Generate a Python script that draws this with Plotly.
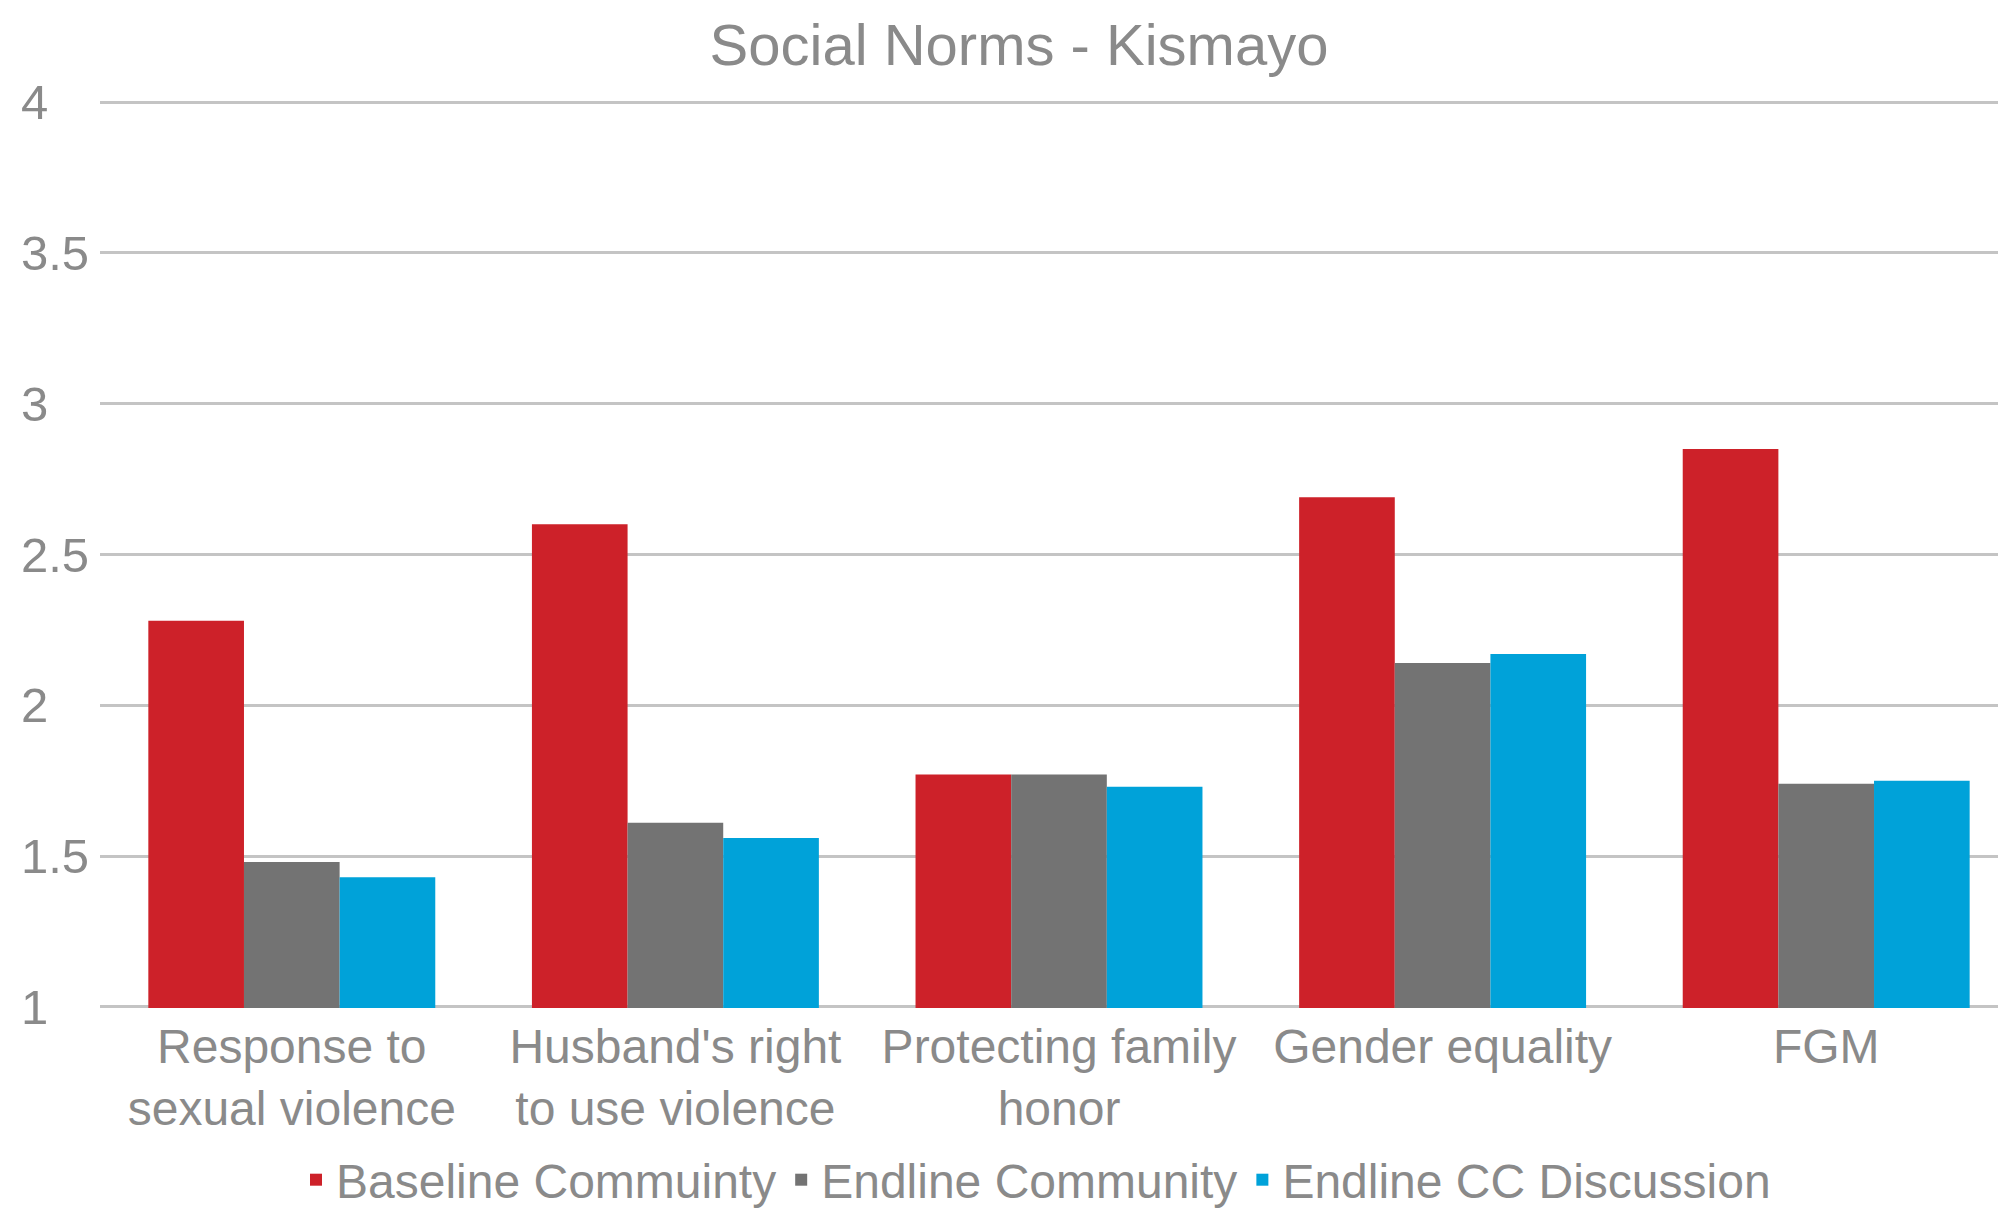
import plotly.graph_objects as go

categories = [
    "Response to<br>sexual violence",
    "Husband's right<br>to use violence",
    "Protecting family<br>honor",
    "Gender equality",
    "FGM",
]
baseline_community = [2.28, 2.60, 1.77, 2.69, 2.85]
endline_community = [1.48, 1.61, 1.77, 2.14, 1.74]
endline_cc_discussion = [1.43, 1.56, 1.73, 2.17, 1.75]

series_names = ["Baseline Commuinty", "Endline Community", "Endline CC Discussion"]
series_colors = ["#CD2129", "#737373", "#00A2D9"]
y_ticks = [1, 1.5, 2, 2.5, 3, 3.5, 4]

FONT = "Liberation Sans, Arial, sans-serif"
TEXT_GREY = "#8A8A8A"
W, H = 1998, 1210
PLOT_LEFT = 100
PLOT_W = W - PLOT_LEFT

fig = go.Figure()
for name, vals, col in zip(series_names,
                           [baseline_community, endline_community, endline_cc_discussion],
                           series_colors):
    fig.add_trace(go.Bar(
        x=categories, y=vals, name=name,
        marker=dict(color=col, line=dict(width=0)),
        base=0,
    ))

# Value-axis labels sit flush left, to the left of the gridlines
for v in y_ticks:
    fig.add_annotation(
        x=(19 - PLOT_LEFT) / PLOT_W, xref="paper", xanchor="left",
        y=v, yref="y", yanchor="middle",
        text=f"{v:g}", showarrow=False,
        font=dict(family=FONT, size=49, color=TEXT_GREY),
    )

eps = 0.004
fig.update_layout(
    width=W, height=H,
    margin=dict(l=PLOT_LEFT, r=0, t=101, b=202, pad=0),
    paper_bgcolor="white", plot_bgcolor="white",
    barmode="group", bargap=0.252, bargroupgap=0,
    font=dict(family=FONT, color=TEXT_GREY, size=48),
    title=dict(
        text="Social Norms - Kismayo",
        x=1019 / W, xref="container", xanchor="center",
        y=1 - 45 / H, yref="container", yanchor="middle",
        font=dict(family=FONT, size=58, color=TEXT_GREY),
    ),
    legend=dict(
        orientation="h",
        xref="container", yref="container",
        x=1036 / W, xanchor="center",
        y=1 - 1180 / H, yanchor="middle",
        font=dict(family=FONT, size=48, color=TEXT_GREY),
        itemwidth=30,
        tracegroupgap=0,
        traceorder="normal",
    ),
    showlegend=True,
    xaxis=dict(
        range=[-0.5, 4.5 - 20 / 383.6],
        showgrid=False, zeroline=False, showline=False,
        ticks="", tickfont=dict(family=FONT, size=48, color=TEXT_GREY),
        ticklabelstandoff=6,
    ),
    yaxis=dict(
        range=[1 - eps, 4 + eps],
        tickvals=y_ticks,
        showticklabels=False,
        showgrid=True, gridcolor="#C4C4C4", gridwidth=3,
        zeroline=False, showline=False, ticks="",
    ),
)

fig.write_html("out.html")
